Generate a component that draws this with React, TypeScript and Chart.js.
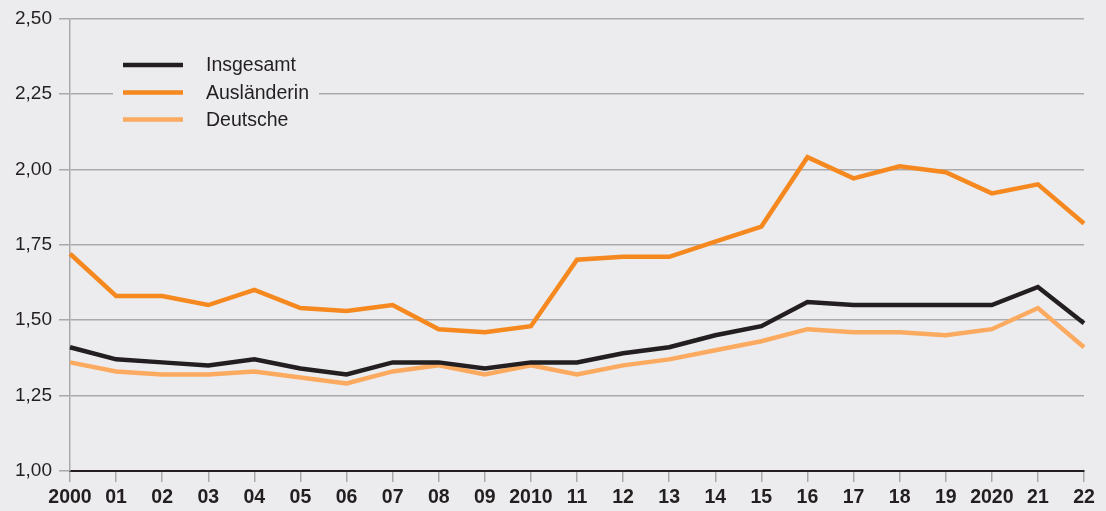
import React, { useEffect, useRef } from "react";
import { Chart, registerables } from "chart.js";

Chart.register(...registerables);

const years = ["2000", "01", "02", "03", "04", "05", "06", "07", "08", "09", "2010", "11", "12", "13", "14", "15", "16", "17", "18", "19", "2020", "21", "22"];
const insgesamt = [1.41, 1.37, 1.36, 1.35, 1.37, 1.34, 1.32, 1.36, 1.36, 1.34, 1.36, 1.36, 1.39, 1.41, 1.45, 1.48, 1.56, 1.55, 1.55, 1.55, 1.55, 1.61, 1.49];
const auslaenderin = [1.72, 1.58, 1.58, 1.55, 1.60, 1.54, 1.53, 1.55, 1.47, 1.46, 1.48, 1.70, 1.71, 1.71, 1.76, 1.81, 2.04, 1.97, 2.01, 1.99, 1.92, 1.95, 1.82];
const deutsche = [1.36, 1.33, 1.32, 1.32, 1.33, 1.31, 1.29, 1.33, 1.35, 1.32, 1.35, 1.32, 1.35, 1.37, 1.40, 1.43, 1.47, 1.46, 1.46, 1.45, 1.47, 1.54, 1.41];
const seriesLabels = ["Insgesamt", "Ausländerin", "Deutsche"];
const yMin = 1.0;
const yMax = 2.5;
const yStep = 0.25;

const BG = "#ececee";
const GRID = "#a9a9ab";
const TEXT = "#231f20";
const FONT = "'Liberation Sans', Arial, Helvetica, sans-serif";

const legendPlugin = {
  id: "customLegend",
  afterDraw(chart: any) {
    const ctx = chart.ctx;
    ctx.save();
    ctx.fillStyle = BG;
    ctx.fillRect(113, 48, 206, 88);
    const rows = [65, 92.5, 119.5];
    chart.data.datasets.forEach((ds: any, i: number) => {
      const y = rows[i];
      ctx.strokeStyle = ds.borderColor;
      ctx.lineWidth = 4.5;
      ctx.lineCap = "butt";
      ctx.beginPath();
      ctx.moveTo(123, y);
      ctx.lineTo(183, y);
      ctx.stroke();
      ctx.fillStyle = TEXT;
      ctx.font = `19.5px ${FONT}`;
      ctx.textBaseline = "middle";
      ctx.textAlign = "left";
      ctx.fillText(ds.label, 206, y + 1);
    });
    ctx.restore();
  },
};

export default function App() {
  const ref = useRef<HTMLCanvasElement>(null);
  useEffect(() => {
    if (!ref.current) return;
    const chart = new Chart(ref.current, {
      type: "line",
      data: {
        labels: years,
        datasets: [
          { label: seriesLabels[0], data: insgesamt, borderColor: "#231f20", backgroundColor: "#231f20", borderWidth: 4.5 },
          { label: seriesLabels[1], data: auslaenderin, borderColor: "#f5891f", backgroundColor: "#f5891f", borderWidth: 4.5 },
          { label: seriesLabels[2], data: deutsche, borderColor: "#fbaa60", backgroundColor: "#fbaa60", borderWidth: 4.5 },
        ],
      },
      options: {
        animation: false,
        responsive: true,
        maintainAspectRatio: false,
        layout: { padding: { left: 0, right: 22, top: 17, bottom: 0 } },
        elements: {
          point: { radius: 0, hoverRadius: 0 },
          line: { tension: 0, borderJoinStyle: "miter", borderCapStyle: "butt" },
        },
        plugins: { legend: { display: false }, tooltip: { enabled: false } },
        scales: {
          x: {
            type: "category",
            offset: false,
            grid: { drawOnChartArea: false, drawTicks: true, tickLength: 11, color: GRID, lineWidth: 1.5 },
            border: { display: true, color: TEXT, width: 2 },
            ticks: {
              autoSkip: false,
              maxRotation: 0,
              padding: 4,
              color: TEXT,
              font: { family: FONT, size: 19.5, weight: "bold" },
            },
            afterFit(scale: any) {
              scale.height = 40;
            },
          },
          y: {
            min: yMin,
            max: yMax,
            ticks: {
              stepSize: yStep,
              padding: 7,
              color: TEXT,
              font: { family: FONT, size: 19 },
              callback: (v: any) => Number(v).toFixed(2).replace(".", ","),
            },
            grid: { color: GRID, lineWidth: 1.5, tickLength: 11, drawTicks: true },
            border: { display: true, color: GRID, width: 1.5 },
            afterFit(scale: any) {
              scale.width = 70;
            },
          },
        },
      },
      plugins: [legendPlugin],
    });
    return () => chart.destroy();
  }, []);
  return (
    <div style={{ position: "fixed", left: 0, top: 0, width: 1106, height: 511, background: BG }}>
      <canvas ref={ref} />
    </div>
  );
}
